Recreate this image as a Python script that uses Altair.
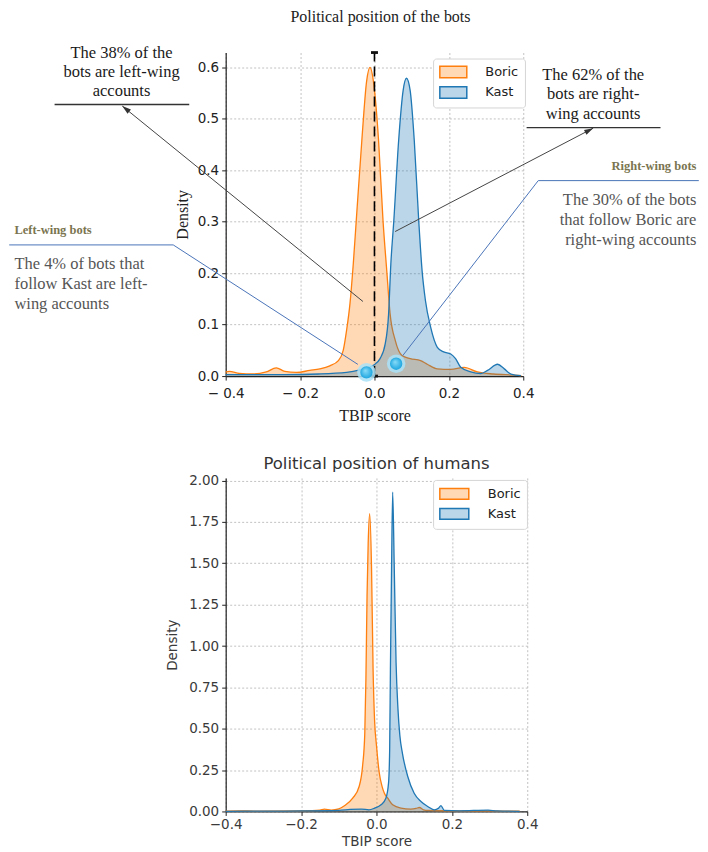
import math
import altair as alt
import pandas as pd

# ---------------- data ----------------
candidates = ["Boric", "Kast"]
line_colors = ["#ff7f0e", "#1f77b4"]
fill_colors = ["rgba(255,127,14,0.3)", "rgba(31,119,180,0.3)"]
x_ticks = [-0.4, -0.2, 0.0, 0.2, 0.4]
bots_y_ticks = [0.0, 0.1, 0.2, 0.3, 0.4, 0.5, 0.6]
humans_y_ticks = [0.0, 0.25, 0.5, 0.75, 1.0, 1.25, 1.5, 1.75, 2.0]

bots_boric_x = [-0.40, -0.39, -0.363, -0.327, -0.291, -0.264, -0.241, -0.21, -0.174, -0.147,
                -0.12, -0.097, -0.084, -0.075, -0.066, -0.057, -0.049, -0.034, -0.021, -0.012,
                -0.003, 0.011, 0.023, 0.033, 0.042, 0.056, 0.074, 0.096, 0.124, 0.142,
                0.169, 0.205, 0.241, 0.277, 0.32, 0.373, 0.395]
bots_boric_d = [0.008, 0.009, 0.005, 0.004, 0.008, 0.016, 0.009, 0.007, 0.011, 0.014,
                0.020, 0.030, 0.050, 0.089, 0.140, 0.218, 0.302, 0.458, 0.574, 0.600,
                0.574, 0.458, 0.302, 0.205, 0.121, 0.069, 0.040, 0.034, 0.030, 0.023,
                0.014, 0.013, 0.017, 0.008, 0.004, 0.002, 0.001]

bots_kast_x = [-0.40, -0.30, -0.24, -0.15, -0.075, -0.039, -0.003, 0.015, 0.029, 0.038,
               0.044, 0.052, 0.065, 0.077, 0.086, 0.096, 0.107, 0.119, 0.128, 0.137,
               0.151, 0.169, 0.186, 0.205, 0.218, 0.232, 0.259, 0.286, 0.304, 0.331,
               0.349, 0.367, 0.394]
bots_kast_d = [0.003, 0.003, 0.003, 0.004, 0.007, 0.012, 0.021, 0.034, 0.063, 0.121,
               0.218, 0.302, 0.458, 0.555, 0.579, 0.555, 0.458, 0.302, 0.205, 0.147,
               0.095, 0.056, 0.047, 0.043, 0.034, 0.017, 0.008, 0.005, 0.011, 0.023,
               0.014, 0.004, 0.001]

hum_boric_x = [-0.40, -0.35, -0.30, -0.20, -0.15, -0.138, -0.12, -0.10, -0.085, -0.063,
               -0.046, -0.037, -0.031, -0.028, -0.025, -0.022, -0.018, -0.013, -0.009, -0.005,
               0.0, 0.007, 0.015, 0.021, 0.030, 0.043, 0.065, 0.091, 0.105, 0.114,
               0.125, 0.136, 0.20, 0.30, 0.38]
hum_boric_d = [0.002, 0.003, 0.002, 0.004, 0.008, 0.014, 0.008, 0.015, 0.034, 0.080,
               0.151, 0.271, 0.472, 0.80, 1.30, 1.62, 1.80, 1.46, 0.86, 0.55,
               0.40, 0.24, 0.15, 0.11, 0.080, 0.040, 0.020, 0.014, 0.018, 0.024,
               0.010, 0.006, 0.004, 0.003, 0.002]

hum_kast_x = [-0.40, -0.30, -0.20, -0.10, -0.07, -0.04, -0.02, -0.005, 0.012, 0.025,
              0.032, 0.035, 0.037, 0.040, 0.043, 0.047, 0.052, 0.057, 0.062, 0.069,
              0.083, 0.10, 0.118, 0.136, 0.153, 0.165, 0.171, 0.18, 0.22, 0.296,
              0.32, 0.38]
hum_kast_d = [0.001, 0.002, 0.003, 0.006, 0.012, 0.014, 0.010, 0.020, 0.040, 0.080,
              0.171, 0.372, 0.86, 1.46, 1.93, 1.50, 0.90, 0.62, 0.46, 0.35,
              0.211, 0.110, 0.060, 0.030, 0.010, 0.020, 0.035, 0.006, 0.004, 0.008,
              0.003, 0.001]


def frame(xs, ds, cand):
    return pd.DataFrame({"x": xs, "y": ds, "cand": cand})


bots = {"Boric": frame(bots_boric_x, bots_boric_d, "Boric"),
        "Kast": frame(bots_kast_x, bots_kast_d, "Kast")}
humans = {"Boric": frame(hum_boric_x, hum_boric_d, "Boric"),
          "Kast": frame(hum_kast_x, hum_kast_d, "Kast")}

# ---------------- annotations (anchored in data coordinates, first text line) ----------------
note_main = pd.DataFrame({
    "x": [-0.680, 0.588], "y": [0.629, 0.586],
    "text": ["The 38% of the\nbots are left-wing\naccounts",
             "The 62% of the\nbots are right-\nwing accounts"]})
note_grey_left = pd.DataFrame({"x": [-0.968], "y": [0.218],
                               "text": ["The 4% of bots that\nfollow Kast are left-\nwing accounts"]})
note_grey_right = pd.DataFrame({"x": [0.8655], "y": [0.343],
                                "text": ["The 30% of the bots\nthat follow Boric are\nright-wing accounts"]})
label_left = pd.DataFrame({"x": [-0.968], "y": [0.284], "text": ["Left-wing bots"]})
label_right = pd.DataFrame({"x": [0.8655], "y": [0.409], "text": ["Right-wing bots"]})

under_rules = pd.DataFrame({"x": [-0.860, 0.409], "x2": [-0.498, 0.769],
                            "y": [0.528, 0.483], "y2": [0.528, 0.483]})
arrows = pd.DataFrame({"x": [-0.031, 0.0556], "y": [0.145, 0.281],
                       "x2": [-0.678, 0.588], "y2": [0.525, 0.482]})
blue_rules = pd.DataFrame({"x": [-0.982, -0.541, 0.4403, 0.4403],
                           "y": [0.255, 0.255, 0.380, 0.380],
                           "x2": [-0.541, -0.0446, 0.872, 0.0762],
                           "y2": [0.255, 0.0227, 0.380, 0.040]})
markers = pd.DataFrame({"x": [-0.0215, 0.0583], "y": [0.0072, 0.024]})
zero_line = pd.DataFrame({"x": [0.0], "y": [0.0], "y2": [0.629]})
zero_caps = pd.DataFrame({"x": [0.0, 0.0], "y": [0.0, 0.629]})

# ---------------- geometry ----------------
TOP_W, TOP_H, TOP_YMAX = 298, 324, 0.629
BOT_W, BOT_H, BOT_YMAX = 302, 334, 2.016
SX = TOP_W / 0.8
SY = TOP_H / TOP_YMAX
arrows["angle"] = [
    math.degrees(math.atan2((r.x2 - r.x) * SX, (r.y2 - r.y) * SY)) % 360
    for r in arrows.itertuples()
]

SERIF = "Liberation Serif"
SANS = "DejaVu Sans"


def axes(ymax, yticks, yfmt, serif, ytitle_pad, xtitle_pad, xlabel_pad, minus_space):
    tfont = SERIF if serif else SANS
    tsize = 16 if serif else 13.5
    tcolor = "#222222" if serif else "#3a3a3a"
    lcolor = "#222222" if serif else "#3a3a3a"
    sep = "− " if minus_space else "−"
    common = dict(grid=True, gridDash=[2, 2], gridColor="#b3b3b3", gridWidth=0.8,
                  domainColor="#222222", domainWidth=1.2, tickColor="#222222", tickSize=4,
                  labelFont=SANS, labelFontSize=13.5, labelColor=lcolor, labelFlush=False,
                  titleFont=tfont, titleFontSize=tsize, titleFontWeight="normal",
                  titleColor=tcolor)
    xaxis = alt.Axis(values=x_ticks, title="TBIP score", titlePadding=xtitle_pad,
                     labelPadding=xlabel_pad,
                     labelExpr=f"datum.value < 0 ? '{sep}' + format(-datum.value, '.1f') : format(datum.value, '.1f')",
                     **common)
    yaxis = alt.Axis(values=yticks, format=yfmt, title="Density", titlePadding=ytitle_pad,
                     labelPadding=3, **common)
    X = lambda f="x": alt.X(f"{f}:Q", scale=alt.Scale(domain=[-0.4, 0.4], nice=False, zero=False),
                            axis=xaxis)
    Y = lambda f="y": alt.Y(f"{f}:Q", scale=alt.Scale(domain=[0, ymax], nice=False),
                            axis=yaxis, stack=None)
    return X, Y


def kde_layers(data, X, Y, leg_x, leg_y, patch_w, patch_h, row_pad, pad):
    unit = patch_w / 4.0            # path spans -2..2 horizontally
    nominal = 2 * unit              # Vega's nominal symbol width
    half_h = (patch_h / 2.0) / unit
    sym_offset = patch_w / 2.0 - nominal / 2.0
    legend = alt.Legend(title=None, orient="none", legendX=leg_x, legendY=leg_y,
                        symbolType=f"M-2,-{half_h:.3f}H2V{half_h:.3f}H-2Z",
                        symbolSize=nominal ** 2, symbolOffset=sym_offset,
                        symbolStrokeWidth=1.5, labelFont=SANS, labelFontSize=13,
                        labelColor="#222222", labelOffset=patch_w - nominal + 11,
                        padding=pad, rowPadding=row_pad,
                        strokeColor="#d5d5d5", fillColor="white", cornerRadius=3)
    fill_scale = alt.Scale(domain=candidates, range=fill_colors)
    stroke_scale = alt.Scale(domain=candidates, range=line_colors)
    layers = []
    for c in candidates:
        df = data[c]
        layers.append(alt.Chart(df).mark_area(interpolate="monotone", opacity=1).encode(
            x=X(), y=Y(), fill=alt.Fill("cand:N", scale=fill_scale, legend=legend)))
        layers.append(alt.Chart(df).mark_line(interpolate="monotone", strokeWidth=1.3).encode(
            x=X(), y=Y(), stroke=alt.Stroke("cand:N", scale=stroke_scale, legend=legend)))
    return layers


# ---------------- top chart: bots ----------------
Xt, Yt = axes(TOP_YMAX, bots_y_ticks, ".1f", True, 7, 8, 6, True)
top_layers = kde_layers(bots, Xt, Yt, 207.7, 6, 27, 11.5, 1.5, 6)

top_layers += [
    alt.Chart(zero_line).mark_rule(color="black", strokeWidth=1.6, strokeDash=[10, 5]).encode(
        x=Xt(), y=Yt(), y2="y2:Q"),
    alt.Chart(zero_caps).mark_point(shape="M-1,-0.4H1V0.4H-1Z", filled=True, size=49,
                                    color="#111111", opacity=1).encode(x=Xt(), y=Yt()),
    alt.Chart(under_rules).mark_rule(color="#333333", strokeWidth=1.3).encode(
        x=Xt(), y=Yt(), x2="x2:Q", y2="y2:Q"),
    alt.Chart(arrows).mark_rule(color="#444444", strokeWidth=1).encode(
        x=Xt(), y=Yt(), x2="x2:Q", y2="y2:Q"),
    alt.Chart(arrows).mark_point(shape="M0,0L0.6,2L-0.6,2Z", filled=True, size=81,
                                 color="#333333", opacity=1).encode(
        x=Xt("x2"), y=Yt("y2"), angle=alt.Angle("angle:Q", scale=None)),
    alt.Chart(blue_rules).mark_rule(color="#4a74b9", strokeWidth=1).encode(
        x=Xt(), y=Yt(), x2="x2:Q", y2="y2:Q"),
    alt.Chart(markers).mark_circle(size=346, color="#a9e2f7", opacity=0.85).encode(
        x=Xt(), y=Yt()),
    alt.Chart(markers).mark_circle(
        size=154, opacity=1,
        color=alt.Gradient(gradient="radial",
                           stops=[alt.GradientStop(color="#8adcf8", offset=0),
                                  alt.GradientStop(color="#15a2de", offset=1)],
                           x1=0.4, y1=0.35, r1=0, x2=0.5, y2=0.5, r2=0.55)).encode(
        x=Xt(), y=Yt()),
    alt.Chart(note_main).mark_text(font=SERIF, fontSize=16.5, align="center", baseline="middle",
                                   lineBreak="\n", lineHeight=19.5, color="#1a1a1a").encode(
        x=Xt(), y=Yt(), text="text:N"),
    alt.Chart(note_grey_left).mark_text(font=SERIF, fontSize=16.5, align="left", baseline="middle",
                                        lineBreak="\n", lineHeight=20, color="#555555").encode(
        x=Xt(), y=Yt(), text="text:N"),
    alt.Chart(note_grey_right).mark_text(font=SERIF, fontSize=16.5, align="right", baseline="middle",
                                         lineBreak="\n", lineHeight=20, color="#555555").encode(
        x=Xt(), y=Yt(), text="text:N"),
    alt.Chart(label_left).mark_text(font=SERIF, fontSize=12.5, fontWeight="bold", align="left",
                                    baseline="middle", color="#7a7550").encode(
        x=Xt(), y=Yt(), text="text:N"),
    alt.Chart(label_right).mark_text(font=SERIF, fontSize=12.5, fontWeight="bold", align="right",
                                     baseline="middle", color="#7a7550").encode(
        x=Xt(), y=Yt(), text="text:N"),
]

top = alt.layer(*top_layers).properties(
    width=TOP_W, height=TOP_H,
    title=alt.TitleParams("Political position of the bots", font=SERIF, fontSize=16,
                          fontWeight="normal", color="#222222", anchor="middle",
                          frame="group", offset=20, dx=6))

# ---------------- bottom chart: humans ----------------
Xb, Yb = axes(BOT_YMAX, humans_y_ticks, ".2f", False, 9, 4, 2, False)
bottom = alt.layer(*kde_layers(humans, Xb, Yb, 207.7, 2, 29, 10.8, 2, 6)).properties(
    width=BOT_W, height=BOT_H,
    title=alt.TitleParams("Political position of humans", font=SANS, fontSize=16.5,
                          fontWeight="normal", color="#333333", anchor="middle",
                          frame="group", offset=1))

chart = (alt.vconcat(top, bottom, spacing=32)
         .resolve_scale(fill="independent", stroke="independent")
         .resolve_legend(fill="independent", stroke="independent")
         .configure_view(strokeWidth=0)
         .properties(padding={"left": 0, "top": 0, "right": 0, "bottom": 0},
                     background="white"))

chart.save("out.html", embed_options={"renderer": "svg", "actions": False})
